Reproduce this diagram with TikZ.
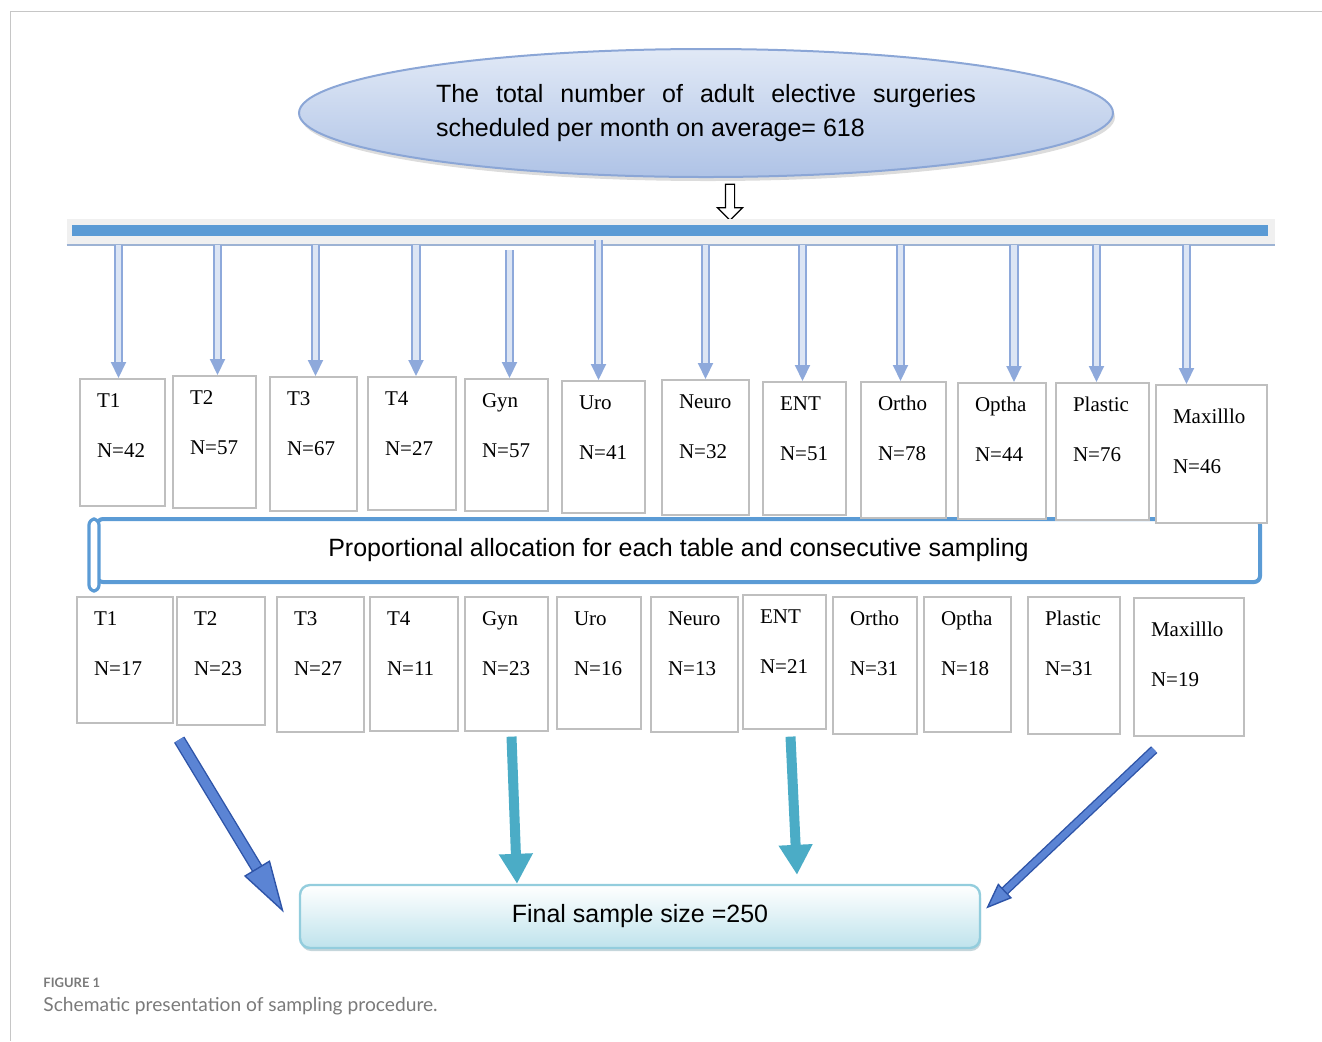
\documentclass[tikz,border=0pt]{standalone}
\usepackage{fontspec}
\setmainfont{Liberation Serif}
\newfontfamily\arialfont{Liberation Sans}
\newfontfamily\capfont{Lato}
\usetikzlibrary{arrows.meta,calc,shapes.geometric,shapes.arrows,shadows}
\definecolor{barblue}{HTML}{5B9BD5}
\definecolor{barshade}{HTML}{9DB3D4}
\definecolor{boxgray}{HTML}{BFBFBF}
\definecolor{arrowblue}{HTML}{8EA9DB}
\definecolor{arrowpale}{HTML}{DCE5F4}
\definecolor{tealA}{HTML}{4BACC6}
\definecolor{midblue}{HTML}{5B84D4}
\definecolor{darkblue}{HTML}{2E54A8}
\definecolor{elltop}{HTML}{E1E9F6}
\definecolor{ellbot}{HTML}{AFC3E6}
\definecolor{ellrim}{HTML}{8BA6D6}
\definecolor{finalbot}{HTML}{BFE3EC}
\definecolor{finalrim}{HTML}{93CDDD}
\definecolor{capgray}{HTML}{7A7A7A}
\tikzset{
  tab/.style={draw=boxgray, line width=0.8pt, fill=white, anchor=north,
    inner xsep=8.5pt, inner ysep=0pt, align=left, text height=14.5pt,
    font=\fontsize{10.5}{25}\selectfont},
  drop/.style={draw=arrowblue, line width=1pt, double=arrowpale, double distance=2.8pt,
    -{Triangle[length=8pt,width=7.5pt,fill=arrowblue]}},
  feed/.style={draw=tealA, line width=5pt, -{Triangle[length=15pt,width=16pt]}},
  sweep/.style={draw=darkblue, line width=0.7pt, double=midblue, double distance=4.6pt,
    -{Triangle[length=26pt,width=15pt,fill=midblue]}},
  sweepthin/.style={draw=darkblue, line width=0.7pt, double=midblue, double distance=3.2pt,
    -{Triangle[length=13pt,width=10pt,fill=midblue]}},
  sans/.style={font=\arialfont\fontsize{12.5}{17}\selectfont}
}
\begin{document}
\begin{tikzpicture}[x=0.5pt,y=-0.5pt]
  \useasboundingbox (0,0) rectangle (1322,1041);
  %frame
  \draw[gray!45, line width=0.5pt] (1322,11) -- (10,11) -- (10,1041);

  \node[ellipse, draw=ellrim, line width=1pt, top color=elltop, bottom color=ellbot,
    minimum width=407pt, minimum height=64pt, inner sep=0pt, text width=270pt, align=justify,
    drop shadow={shadow xshift=1pt, shadow yshift=-2pt, fill=gray!55}, sans] (total) at (706,113)
    {The total number of adult elective surgeries scheduled per month on average= 618};
  \node[single arrow, draw=black, fill=white, line width=0.6pt, shape border rotate=270,
    minimum height=18pt, inner sep=2pt, single arrow head extend=4pt] (down) at (730,200) {};

  \node[fill=black!6, minimum width=604pt, minimum height=13pt, inner sep=0pt] (barbg) at (671,232) {};
  \draw[barshade, line width=1pt] (barbg.south west) -- (barbg.south east);
  \node[fill=barblue, minimum width=598pt, minimum height=5.5pt, inner sep=0pt] (bar) at (670,230) {};

  \node[draw=barblue, line width=2pt, rounded corners=3pt, minimum width=581.5pt,
    minimum height=31.5pt, sans] (alloc) at (678.5,550.5)
    {Proportional allocation for each table and consecutive sampling};
  \node[draw=barblue, line width=1.6pt, fill=white, rounded corners=3pt, minimum width=5pt,
    minimum height=36pt, inner sep=0pt] (scroll) at (94,555) {};

  %tables, before allocation
  \node[tab, text width=25.5pt, text depth=49pt] (a1) at (122.5,378) {T1\\N=42};
  \node[tab, text width=24.5pt, text depth=51.5pt] (a2) at (214.5,375) {T2\\N=57};
  \node[tab, text width=26.5pt, text depth=52.5pt] (a3) at (313.5,376) {T3\\N=67};
  \node[tab, text width=27pt, text depth=52pt] (a4) at (412,376) {T4\\N=27};
  \node[tab, text width=24.5pt, text depth=51.5pt] (a5) at (506.5,378) {Gyn\\N=57};
  \node[tab, text width=24.5pt, text depth=51.5pt] (a6) at (603.5,380) {Uro\\N=41};
  \node[tab, text width=26.5pt, text depth=53pt] (a7) at (705.5,379) {Neuro\\N=32};
  \node[tab, text width=24.5pt, text depth=52pt] (a8) at (804.5,381) {ENT\\N=51};
  \node[tab, text width=25.5pt, text depth=53.5pt] (a9) at (903.5,381) {Ortho\\N=78};
  \node[tab, text width=27pt, text depth=53.5pt] (a10) at (1002,382) {Optha\\N=44};
  \node[tab, text width=29.5pt, text depth=54pt] (a11) at (1102.5,382) {Plastic\\N=76};
  \node[tab, text width=38.5pt, text height=19.5pt, text depth=49.5pt] (a12) at (1211.5,384) {Maxilllo\\N=46};

  \draw[drop] ($(barbg.south -| a1.north)+(-4,0)$) -- ($(a1.north)+(-4,0)$);
  \draw[drop] ($(barbg.south -| a2.north)+(3,0)$) -- ($(a2.north)+(3,0)$);
  \draw[drop] ($(barbg.south -| a3.north)+(2,0)$) -- ($(a3.north)+(2,0)$);
  \draw[drop] ($(barbg.south -| a4.north)+(4,0)$) -- ($(a4.north)+(4,0)$);
  \draw[drop] ($(barbg.south -| a5.north)+(3,5)$) -- ($(a5.north)+(3,0)$);
  \draw[drop] ($(barbg.south -| a6.north)+(-5,-5)$) -- ($(a6.north)+(-5,0)$);
  \draw[drop] (barbg.south -| a7.north) -- (a7.north);
  \draw[drop] ($(barbg.south -| a8.north)+(-2,0)$) -- ($(a8.north)+(-2,0)$);
  \draw[drop] ($(barbg.south -| a9.north)+(-3,0)$) -- ($(a9.north)+(-3,0)$);
  \draw[drop] ($(barbg.south -| a10.north)+(12,0)$) -- ($(a10.north)+(12,0)$);
  \draw[drop] ($(barbg.south -| a11.north)+(-6,0)$) -- ($(a11.north)+(-6,0)$);
  \draw[drop] ($(barbg.south -| a12.north)+(-25,0)$) -- ($(a12.north)+(-25,0)$);

  %tables, after allocation
  \node[tab, text width=31pt, text depth=48.5pt] (b1) at (125,596) {T1\\N=17};
  \node[tab, text width=27pt, text depth=49.5pt] (b2) at (221,596) {T2\\N=23};
  \node[tab, text width=26.5pt, text depth=53pt] (b3) at (320.5,596) {T3\\N=27};
  \node[tab, text width=27pt, text depth=52.5pt] (b4) at (414,596) {T4\\N=11};
  \node[tab, text width=24.5pt, text depth=52.5pt] (b5) at (506.5,596) {Gyn\\N=23};
  \node[tab, text width=25pt, text depth=51.5pt] (b6) at (599,596) {Uro\\N=16};
  \node[tab, text width=26.5pt, text depth=53pt] (b7) at (694.5,596) {Neuro\\N=13};
  \node[tab, text width=24.5pt, text depth=52.5pt] (b8) at (784.5,594) {ENT\\N=21};
  \node[tab, text width=25pt, text depth=54pt] (b9) at (875,596) {Ortho\\N=31};
  \node[tab, text width=26.5pt, text depth=53pt] (b10) at (967.5,596) {Optha\\N=18};
  \node[tab, text width=29pt, text depth=54pt] (b11) at (1074,596) {Plastic\\N=31};
  \node[tab, text width=38pt, text height=19.5pt, text depth=49.5pt] (b12) at (1189,597) {Maxilllo\\N=19};

  \node[draw=finalrim, line width=1.2pt, rounded corners=5pt, top color=white, bottom color=finalbot,
    minimum width=340pt, minimum height=31.5pt,
    drop shadow={shadow xshift=0.5pt, shadow yshift=-1.5pt, fill=finalrim!60!gray}, sans] (final) at (640,916.5)
    {Final sample size =250};

  \draw[sweep] ($(b2.south west)+(3,14)$) -- ($(final.west)+(-15,-4)$);
  \draw[feed] ($(b5.south)+(5,5)$) -- ($(final.north)+(-123,0)$);
  \draw[feed] ($(b8.south)+(6,7)$) -- ($(final.north)+(157,-9)$);
  \draw[sweepthin] ($(b12.south west)+(21,13)$) -- ($(final.east)+(5,-8)$);

  %caption
  \node[anchor=west, inner sep=0pt, text=capgray, font=\capfont\bfseries\fontsize{6.5}{8}\selectfont] (fig) at (43,983) {FIGURE 1};
  \node[anchor=west, inner sep=0pt, text=capgray, font=\capfont\fontsize{9.6}{11}\selectfont] (cap) at (43,1006) {Schematic presentation of sampling procedure.};
\end{tikzpicture}
\end{document}
